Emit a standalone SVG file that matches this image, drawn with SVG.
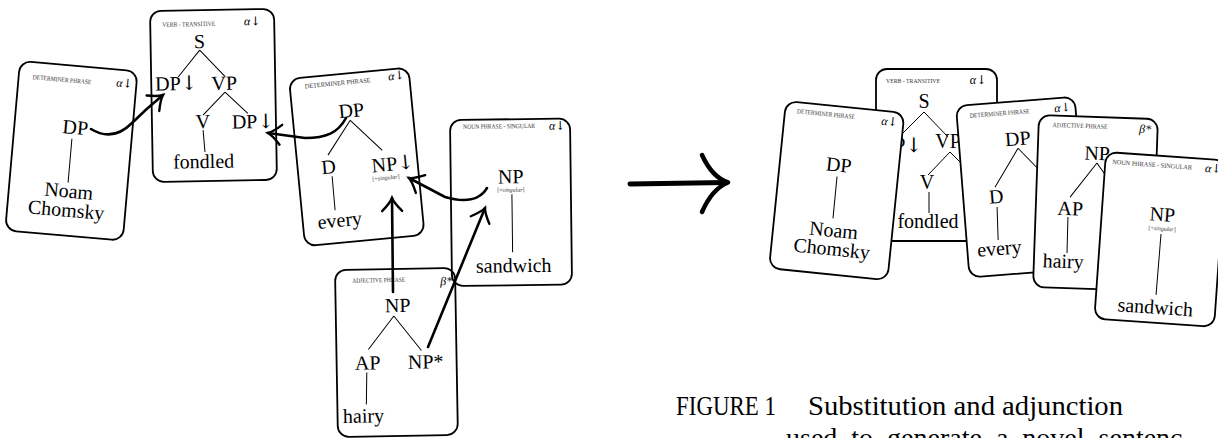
<svg xmlns="http://www.w3.org/2000/svg" width="1218" height="438" viewBox="0 0 1218 438">
<style>
.card{fill:none;stroke:#000;stroke-width:1.8}
.cardw{fill:#fff;stroke:#000;stroke-width:1.8}
text{font-family:"Liberation Serif","DejaVu Serif",serif;fill:#000}
.ar{font-family:"DejaVu Serif","DejaVu Sans",sans-serif;font-style:normal}
.n{font-size:20px;text-anchor:middle}
.hdr{font-size:6.5px;fill:#333}
.tag{font-size:12px;font-style:italic;text-anchor:middle}
.feat{font-size:6px;text-anchor:middle;fill:#333}
.br{stroke:#000;stroke-width:1;fill:none}
.conn{fill:none;stroke:#000;stroke-width:2.6;stroke-linecap:round;marker-end:url(#ah)}
.cap{font-size:28px}
</style>
<defs>
<marker id="ah" markerUnits="userSpaceOnUse" viewBox="-15 -12 17 24" refX="0" refY="0" markerWidth="17" markerHeight="24" orient="auto" overflow="visible">
<path d="M-13,-10 Q-5,-2 0,0 Q-5,2 -13,10" fill="none" stroke="#000" stroke-width="2.4" stroke-linecap="round"/>
</marker>
</defs>

<g id="card-dp-noam" transform="translate(20,61) rotate(5)">
<rect class="card" width="118" height="170" rx="11"/>
<text class="hdr" x="14" y="17" textLength="59" lengthAdjust="spacingAndGlyphs">DETERMINER PHRASE</text>
<text class="tag" x="106" y="17">α<tspan class="ar">↓</tspan></text>
<text class="n" x="61" y="68" font-size="22">DP</text>
<line class="br" x1="58.5" y1="73" x2="58.5" y2="117"/>
<text class="n" x="60" y="132" font-size="20.5">Noam</text>
<text class="n" x="59" y="151" font-size="20.5">Chomsky</text>
</g>

<g id="card-verb" transform="translate(150,11) rotate(-1)">
<rect class="card" width="124" height="171" rx="11"/>
<text class="hdr" x="12" y="16" textLength="53" lengthAdjust="spacingAndGlyphs">VERB - TRANSITIVE</text>
<text class="tag" x="102" y="16">α<tspan class="ar">↓</tspan></text>
<text class="n" x="49" y="38" font-size="18">S</text>
<text class="n" x="25" y="79.5" font-size="18">DP<tspan class="ar">↓</tspan></text>
<text class="n" x="73" y="80" font-size="18">VP</text>
<text class="n" x="51" y="118" font-size="18">V</text>
<text class="n" x="101" y="119" font-size="18">DP<tspan class="ar">↓</tspan></text>
<text class="n" x="51" y="158" font-size="20">fondled</text>
<path class="br" d="M49,40 L27,66.5 M49,40 L74,67 M73.6,82.5 L51.2,105 M73.6,82.5 L96,104 M51,120 L52.5,142"/>
</g>

<g id="card-dp-every" transform="translate(289,79) rotate(-5.5)">
<rect class="card" width="120" height="168" rx="11"/>
<text class="hdr" x="15" y="11" textLength="66" lengthAdjust="spacingAndGlyphs">DETERMINER PHRASE</text>
<text class="tag" x="107" y="11">α<tspan class="ar">↓</tspan></text>
<text class="n" x="59" y="44" font-size="21">DP</text>
<text class="n" x="31" y="98">D</text>
<text class="n" x="74" y="101" style="text-anchor:start">NP<tspan class="ar">↓</tspan></text>
<text class="feat" x="87" y="109.5">[+<tspan font-style="italic">singular</tspan>]</text>
<text class="n" x="37" y="152" font-size="22">every</text>
<path class="br" d="M57,47 L31.5,79.5 M57,47 L86,80 M33.6,101 L33.3,135"/>
</g>

<g id="card-np-sandwich" transform="translate(450,120) rotate(-0.7)">
<rect class="card" width="120" height="166" rx="11"/>
<text class="hdr" x="13" y="9" textLength="72" lengthAdjust="spacingAndGlyphs">NOUN PHRASE - SINGULAR</text>
<text class="tag" x="107" y="11">α<tspan class="ar">↓</tspan></text>
<text class="n" x="60" y="64" font-size="21">NP</text>
<text class="feat" x="60" y="72.5">[+<tspan font-style="italic">singular</tspan>]</text>
<line class="br" x1="61" y1="75" x2="61" y2="133"/>
<text class="n" x="62" y="153" font-size="21">sandwich</text>
</g>

<g id="card-adj" transform="translate(335,270) rotate(-1)">
<rect class="card" width="120" height="167" rx="11"/>
<text class="hdr" x="17" y="13" textLength="53" lengthAdjust="spacingAndGlyphs">ADJECTIVE PHRASE</text>
<text class="tag" x="111" y="17" font-size="13">β*</text>
<text class="n" x="62" y="43" font-size="21">NP</text>
<text class="n" x="31" y="100" font-size="21">AP</text>
<text class="n" x="89" y="100" font-size="21">NP*</text>
<text class="n" x="26" y="153" font-size="21">hairy</text>
<path class="br" d="M58,47 L32,80 M58,47 L85,82 M30,103 L29,135"/>
</g>

<g id="card-verb-r" transform="translate(876,69)">
<rect class="cardw" width="121" height="172" rx="11"/>
<text class="hdr" x="10" y="14" textLength="54" lengthAdjust="spacingAndGlyphs">VERB - TRANSITIVE</text>
<text class="tag" x="102" y="15">α<tspan class="ar">↓</tspan></text>
<text class="n" x="48" y="39" font-size="18">S</text>
<text class="n" x="25" y="83" font-size="18">DP<tspan class="ar">↓</tspan></text>
<text class="n" x="72" y="79" font-size="18">VP</text>
<text class="n" x="51" y="120" font-size="18">V</text>
<text class="n" x="52" y="159" font-size="20">fondled</text>
<path class="br" d="M48,43 L27,64 M48,43 L72,68 M74,83 L52,106 M74,83 L95,104 M53,123 L53,144"/>
</g>

<g id="card-dp-noam-r" transform="translate(786,101) rotate(5.8)">
<rect class="cardw" width="119" height="168" rx="11"/>
<text class="hdr" x="12" y="11" textLength="58" lengthAdjust="spacingAndGlyphs">DETERMINER PHRASE</text>
<text class="tag" x="105" y="14">α<tspan class="ar">↓</tspan></text>
<text class="n" x="59" y="65" font-size="22">DP</text>
<line class="br" x1="58.4" y1="70" x2="58.6" y2="112"/>
<text class="n" x="60.5" y="130.5" font-size="20.5">Noam</text>
<text class="n" x="60.4" y="149" font-size="20.5">Chomsky</text>
</g>

<g id="card-dp-every-r" transform="translate(956,106) rotate(-4.5)">
<rect class="cardw" width="119" height="172" rx="11"/>
<text class="hdr" x="13" y="13" textLength="60" lengthAdjust="spacingAndGlyphs">DETERMINER PHRASE</text>
<text class="tag" x="106" y="14">α<tspan class="ar">↓</tspan></text>
<text class="n" x="59" y="44" font-size="21">DP</text>
<text class="n" x="33" y="100" font-size="19">D</text>
<text class="n" x="32" y="152" font-size="21">every</text>
<path class="br" d="M58.5,47 L32.5,84 M58.5,47 L86,80 M33,104 L31.5,137"/>
</g>

<g id="card-adj-r" transform="translate(1039,115) rotate(2)">
<rect class="cardw" width="119" height="172" rx="11"/>
<text class="hdr" x="14" y="11.5" textLength="55" lengthAdjust="spacingAndGlyphs">ADJECTIVE PHRASE</text>
<text class="tag" x="106.6" y="14.3" font-size="13">β*</text>
<text class="n" x="59.5" y="43" font-size="21">NP</text>
<text class="n" x="34.5" y="99" font-size="20">AP</text>
<text class="n" x="29.3" y="152" font-size="21">hairy</text>
<path class="br" d="M59.6,46 L33.9,81 M59.6,46 L86,81 M32.5,101 L32.8,137"/>
</g>

<g id="card-np-sandwich-r" transform="translate(1106,152) rotate(4)">
<rect class="cardw" width="120" height="167" rx="11"/>
<text class="hdr" x="7" y="11.6" textLength="80" lengthAdjust="spacingAndGlyphs">NOUN PHRASE - SINGULAR</text>
<text class="tag" x="108" y="13">α<tspan class="ar">↓</tspan></text>
<text class="n" x="60.6" y="65" font-size="22">NP</text>
<text class="feat" x="61.3" y="74.5">[+<tspan font-style="italic">singular</tspan>]</text>
<line class="br" x1="60.6" y1="78" x2="59.9" y2="139"/>
<text class="n" x="60" y="158" font-size="21">sandwich</text>
</g>

<g id="connectors">
<path class="conn" d="M91,129 C104,137 118,137 132,123 C145,110 152,104 163,95"/>
<path class="conn" d="M346,118 C338,133 326,138 305,138 L268,133"/>
<path class="conn" d="M487,188 C480,200 465,203 445,197 L409,178"/>
<path class="conn" d="M393,292 L392,198"/>
<path class="conn" d="M428,347 L485,208"/>
<path d="M630,184 L726,182.5" fill="none" stroke="#000" stroke-width="5" stroke-linecap="round"/>
<path d="M702,155 Q712,177 728,182.5 Q712,189 702,212" fill="none" stroke="#000" stroke-width="4.5" stroke-linecap="round" stroke-linejoin="round"/>
</g>

<g id="caption">
<text class="cap" x="676" y="415" font-size="22" textLength="100" lengthAdjust="spacingAndGlyphs">FIGURE 1</text>
<text class="cap" x="808" y="415" textLength="315" lengthAdjust="spacingAndGlyphs">Substitution and adjunction</text>
<text class="cap" x="786" y="447" font-size="29" word-spacing="7">used to generate a novel sentenc</text>
</g>
</svg>
